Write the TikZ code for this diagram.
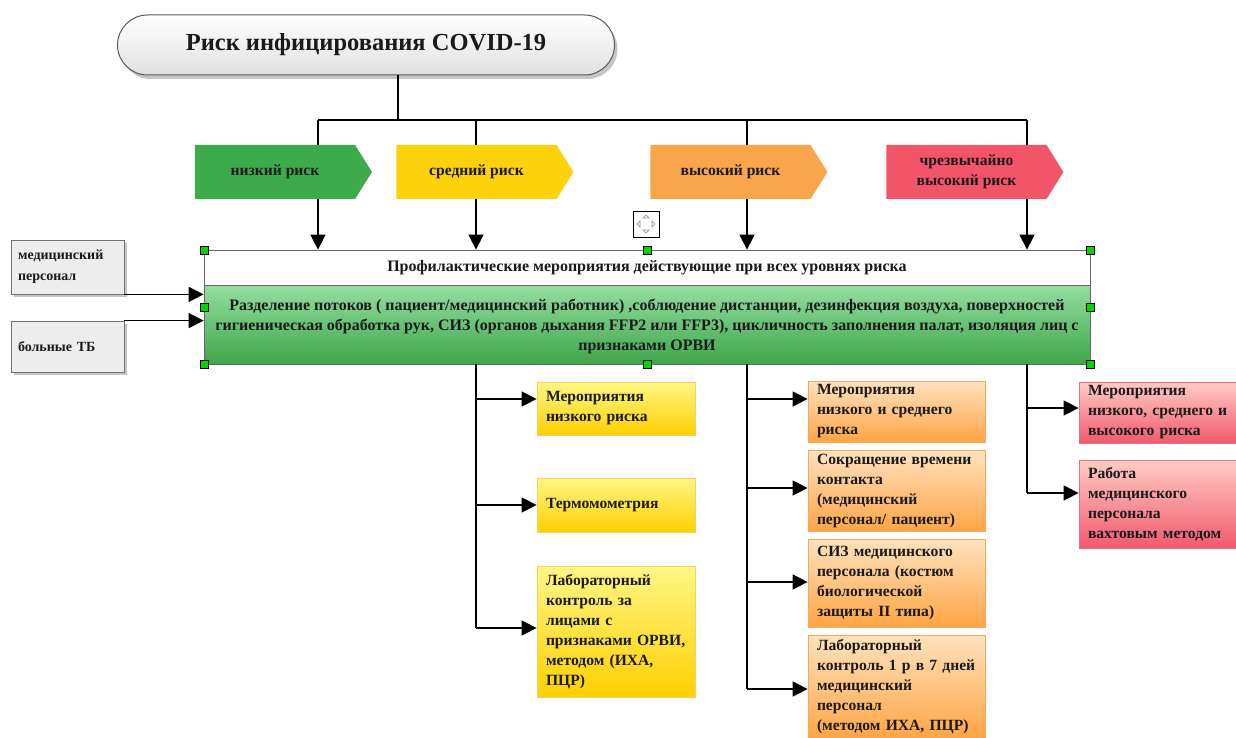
\documentclass[tikz,border=0pt]{standalone}
\usepackage{fontspec}
\setmainfont{Liberation Serif}
\usetikzlibrary{shapes.symbols,shadows,arrows.meta,calc}
\definecolor{cgreen}{HTML}{3DAA4B}
\definecolor{cyellow}{HTML}{FDD20A}
\definecolor{corange}{HTML}{F9A54B}
\definecolor{cred}{HTML}{F25468}
\definecolor{mgtop}{HTML}{94DE9E}
\definecolor{mgbot}{HTML}{3EA64B}
\definecolor{ytop}{HTML}{FFF685}
\definecolor{ybot}{HTML}{FFD000}
\definecolor{yedge}{HTML}{F5D060}
\definecolor{otop}{HTML}{FFE2BE}
\definecolor{obot}{HTML}{FFA544}
\definecolor{oedge}{HTML}{F5A85A}
\definecolor{rtop}{HTML}{FFCCC4}
\definecolor{rbot}{HTML}{F25A6E}
\definecolor{redge}{HTML}{E8707E}
\definecolor{txt}{HTML}{1A1A1A}
\begin{document}
\begin{tikzpicture}[x=1pt,y=-1pt,
  every node/.style={font=\bfseries\fontsize{15.6}{20}\selectfont, text=txt},
  line/.style={draw=black, line width=1.5pt},
  arr/.style={line, -{Triangle[length=15pt,width=15pt]}},
  titlebox/.style={draw=black!65, line width=1pt, rounded corners=30pt, top color=white, bottom color=black!12,
    minimum width=497pt, minimum height=60pt, font=\bfseries\fontsize{24.5}{30}\selectfont,
    drop shadow={shadow xshift=3pt, shadow yshift=-4pt, fill=black!45}},
  chev/.style={shape=signal, signal to=east, signal from=nowhere, signal pointer angle=116,
    minimum width=177pt, minimum height=54pt, inner sep=0pt, align=center},
  hdr/.style={draw=black!60, line width=0.8pt, fill=white, minimum width=886pt, minimum height=35pt, inner sep=0pt,
    font=\bfseries\fontsize{16}{20}\selectfont},
  mainbox/.style={draw=black!60, line width=0.8pt, top color=mgtop, bottom color=mgbot, minimum width=886pt, minimum height=79pt, align=center, inner sep=0pt,
    font=\bfseries\fontsize{16}{20}\selectfont},
  side/.style={draw=black!55, line width=0.8pt, fill=black!7, minimum width=113pt, inner xsep=7pt, text width=99pt, align=left,
    font=\bfseries\fontsize{14}{21}\selectfont,
    drop shadow={shadow xshift=3pt, shadow yshift=-3pt, fill=black!45}},
  ybox/.style={draw=yedge, line width=0.8pt, top color=ytop, bottom color=ybot, inner xsep=9pt, text width=140pt, minimum width=158pt, align=left},
  obox/.style={draw=oedge, line width=0.8pt, top color=otop, bottom color=obot, inner xsep=9pt, text width=159pt, minimum width=177pt, align=left},
  rbox/.style={draw=redge, line width=0.8pt, top color=rtop, bottom color=rbot, inner xsep=9pt, text width=139pt, minimum width=157pt, align=left},
  handle/.style={draw=black, line width=0.6pt, fill=green!85!black, minimum size=8pt, inner sep=0pt}
]
\useasboundingbox (0,0) rectangle (1236,738);

% title
\node[titlebox] (title) at (366,45) {Риск инфицирования COVID-19};

% bus coordinates
\coordinate (b0) at (398,120);
\coordinate (c1) at (318,120);
\coordinate (c2) at (476,120);
\coordinate (c3) at (747,120);
\coordinate (c4) at (1027,120);

% chevrons
\node[chev, fill=cgreen] (low) at (275,172) {низкий риск};
\node[chev, fill=cyellow] (mid) at (476.5,172) {средний риск};
\node[chev, fill=corange] (high) at (730.5,172) {высокий риск};
\node[chev, fill=cred] (vhigh) at (966.5,172) {чрезвычайно\\высокий риск};

% main boxes
\node[hdr] (hdr) at (647,267.5) {Профилактические мероприятия действующие при всех уровнях риска};
\node[mainbox] (main) at (647,324.5) {};
\node[align=center, font=\bfseries\fontsize{16}{20}\selectfont] (maintext) at (647,326.5) {Разделение потоков ( пациент/медицинский работник) ,соблюдение дистанции, дезинфекция воздуха, поверхностей\\
гигиеническая обработка рук, СИЗ (органов дыхания FFP2 или FFP3), цикличность заполнения палат, изоляция лиц с\\
признаками ОРВИ};

% handles
\node[handle] (h1) at (204,250) {};
\node[handle] (h2) at (647,250) {};
\node[handle] (h3) at (1090,250) {};
\node[handle] (h4) at (204,307) {};
\node[handle] (h5) at (1090,307) {};
\node[handle] (h6) at (204,364) {};
\node[handle] (h7) at (647,364) {};
\node[handle] (h8) at (1090,364) {};

% move icon
\node[draw=black, line width=1pt, fill=white, minimum size=26pt, inner sep=0pt] (mv) at (646,224) {};
\draw[black!45, line width=0.6pt] ($(mv.center)+(0,-9)$) -- ($(mv.center)+(3,-6)$) -- ($(mv.center)+(-3,-6)$) -- cycle
  ($(mv.center)+(0,9)$) -- ($(mv.center)+(3,6)$) -- ($(mv.center)+(-3,6)$) -- cycle
  ($(mv.center)+(-9,0)$) -- ($(mv.center)+(-6,3)$) -- ($(mv.center)+(-6,-3)$) -- cycle
  ($(mv.center)+(9,0)$) -- ($(mv.center)+(6,3)$) -- ($(mv.center)+(6,-3)$) -- cycle;

% side boxes
\node[side, minimum height=54pt] (med) at (67.5,267) {медицинский\\персонал};
\node[side, minimum height=51pt] (tb) at (67.5,346.5) {больные ТБ};

% connectors top
\draw[line] (title.south -| b0) -- (b0);
\draw[line] (c1) -- (c4);
\draw[line] (c1) -- (c1 |- low.north);
\draw[line] (c2) -- (c2 |- mid.north);
\draw[line] (c3) -- (c3 |- high.north);
\draw[line] (c4) -- (c4 |- vhigh.north);
\draw[arr] (c1 |- low.south) -- (c1 |- hdr.north);
\draw[arr] (c2 |- mid.south) -- (c2 |- hdr.north);
\draw[arr] (c3 |- high.south) -- (c3 |- hdr.north);
\draw[arr] (c4 |- vhigh.south) -- (c4 |- hdr.north);

\draw[arr] (med.south east) -- (med.south east -| main.west);
\draw[arr] (tb.north east) -- (tb.north east -| main.west);

% yellow column
\node[ybox, minimum height=53pt] (y1) at (616,408.5) {Мероприятия\\низкого риска};
\node[ybox, minimum height=54pt] (y2) at (616,505) {Термомометрия};
\node[ybox, minimum height=131pt] (y3) at (616,631.5) {Лабораторный\\контроль за\\лицами с\\признаками ОРВИ,\\методом (ИХА,\\ПЦР)};
\draw[line] (main.south -| c2) -- (c2 |- 0,628);
\draw[arr] (c2 |- 0,399) -- (y1.west |- 0,399);
\draw[arr] (c2 |- 0,505) -- (y2.west |- 0,505);
\draw[arr] (c2 |- 0,628) -- (y3.west |- 0,628);

% orange column
\node[obox, minimum height=61pt] (o1) at (896.5,411.5) {Мероприятия\\низкого и среднего\\риска};
\node[obox, minimum height=80pt] (o2) at (896.5,491) {Сокращение времени\\контакта\\(медицинский\\персонал/ пациент)};
\node[obox, minimum height=88pt] (o3) at (896.5,583) {СИЗ медицинского\\персонала (костюм\\биологической\\защиты II типа)};
\node[obox, minimum height=104pt] (o4) at (896.5,687) {Лабораторный\\контроль 1 р в 7 дней\\медицинский\\персонал\\(методом ИХА, ПЦР)};
\draw[line] (main.south -| c3) -- (c3 |- 0,689);
\draw[arr] (c3 |- 0,399) -- (o1.west |- 0,399);
\draw[arr] (c3 |- 0,488) -- (o2.west |- 0,488);
\draw[arr] (c3 |- 0,582) -- (o3.west |- 0,582);
\draw[arr] (c3 |- 0,689) -- (o4.west |- 0,689);

% red column
\node[rbox, minimum height=61pt] (r1) at (1157.5,412.5) {Мероприятия\\\mbox{низкого, среднего и}\\высокого риска};
\node[rbox, minimum height=88pt] (r2) at (1157.5,504) {Работа\\медицинского\\персонала\\\mbox{вахтовым методом}};
\draw[line] (main.south -| c4) -- (c4 |- 0,493);
\draw[arr] (c4 |- 0,408) -- (r1.west |- 0,408);
\draw[arr] (c4 |- 0,493) -- (r2.west |- 0,493);
\end{tikzpicture}
\end{document}
